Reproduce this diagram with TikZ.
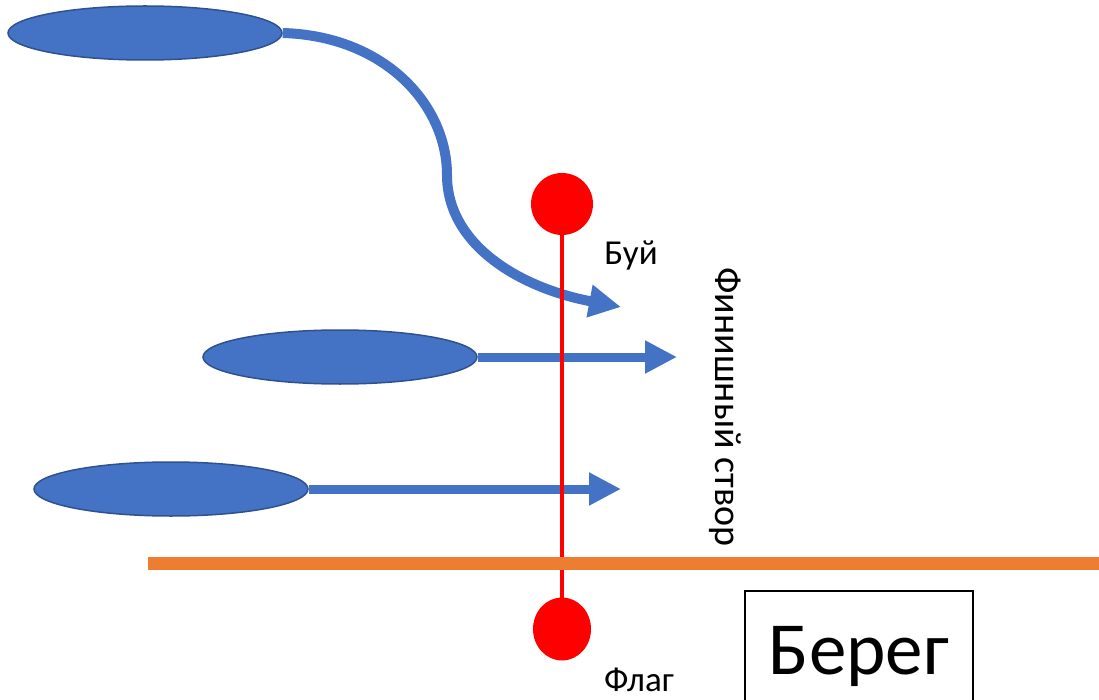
\documentclass[tikz,border=0pt]{standalone}
\usepackage{fontspec}
\setmainfont{Carlito}
\usetikzlibrary{shapes.geometric,arrows.meta}
\definecolor{boatblue}{HTML}{4472C4}
\definecolor{boatedge}{HTML}{2F528F}
\definecolor{shore}{HTML}{ED7D31}
\tikzset{
  boat/.style={ellipse, fill=boatblue, draw=boatedge, line width=1.5pt, minimum width=274pt, minimum height=54pt, inner sep=0pt},
  course/.style={draw=boatblue, line width=10pt, -{Triangle[length=32pt,width=31pt]}},
  redball/.style={circle, fill=red, minimum size=62pt, inner sep=0pt},
  lbl/.style={font=\fontsize{35}{40}\selectfont, inner sep=0pt}
}
\begin{document}
\begin{tikzpicture}[x=1pt,y=-1pt]
\useasboundingbox (0,0) rectangle (1099,700);
\clip (0,0) rectangle (1099,700);
% boats
\node[boat] (e1) at (145,33) {};
\node[boat] (e2) at (340,357) {};
\node[boat] (e3) at (171,489) {};
\coordinate (t1) at (621,307);
\coordinate (t2) at (677,357);
\coordinate (t3) at (621,489);
\draw[course] (e1.east) .. controls (385,36) and (447,105) .. (447,175)
  .. controls (447,245) and (520,288) .. (t1);
\draw[course, line width=9pt] (e2.east) -- (t2);
\draw[course, line width=9pt] (e3.east) -- (t3);
% finish line
\coordinate (buoy) at (562,204);
\coordinate (flag) at (562,629);
\draw[red, line width=4pt] (buoy) -- (flag);
\node[redball] (nb) at (buoy) {};
\node[redball, ellipse, minimum width=58pt, minimum height=63pt] (nf) at (flag) {};
% shore line
\coordinate (sl) at (148,563);
\coordinate (sr) at (1099,563);
\draw[shore, line width=13pt] (sl) -- (sr);
% labels
\node[lbl] (lb) at (631,256) {Буй};
\node[lbl] (lf) at (639,680) {Флаг};
\node[lbl, font=\fontsize{38}{44}\selectfont, rotate=-90] (lv) at (725,407) {Финишный створ};
\node[draw=black, line width=1.5pt, minimum width=228pt, minimum height=130pt, inner sep=0pt, font=\fontsize{75}{82}\selectfont] (bereg) at (859,656) {Берег};
\end{tikzpicture}
\end{document}
